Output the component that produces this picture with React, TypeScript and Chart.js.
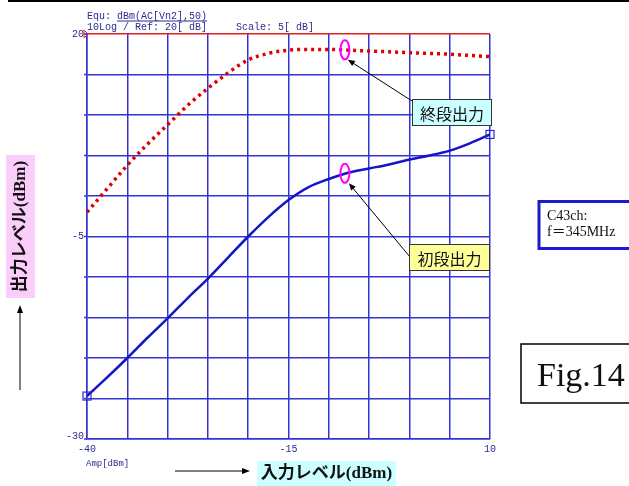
import React, { useEffect, useRef } from "react";
import { Chart, registerables } from "chart.js";
Chart.register(...registerables);

// Input level (dBm)
const inputLevel = [-40, -37.5, -35, -32.5, -30, -27.5, -25, -22.5, -20, -17.5, -15, -12.5, -10, -7.5, -5, -2.5, 0, 2.5, 5, 7.5, 10];
// 終段出力 (final stage output, dBm)
const finalStage = [-2.0, 0.9, 3.8, 6.4, 8.8, 11.2, 13.3, 15.2, 16.8, 17.6, 18.0, 18.1, 18.1, 18.0, 17.9, 17.8, 17.7, 17.6, 17.5, 17.35, 17.2];
// 初段出力 (first stage output, dBm)
const firstStage = [-24.7, -22.4, -20.0, -17.5, -15.1, -12.6, -10.2, -7.6, -5.0, -2.6, -0.5, 1.1, 2.1, 2.9, 3.4, 3.9, 4.5, 5.0, 5.6, 6.5, 7.6];

const xTickLabels = [-40, -15, 10];
const yTickLabels = [20, -5, -30];
const markerX = -8;
const markerFinalY = 18.05;
const markerFirstY = 2.8;

const headerLine1a = "Equ: ";
const headerLine1b = "dBm(AC[Vn2],50)";
const headerLine2 = "10Log / Ref: 20[ dB]";
const headerScale = "Scale: 5[ dB]";
const xUnitLabel = "Amp[dBm]";
const finalLabel = "終段出力";
const firstLabel = "初段出力";
const yTitle = "出力レベル(dBm)";
const xTitle = "入力レベル(dBm)";
const infoLine1 = "C43ch:";
const infoLine2 = "f＝345MHz";
const figLabel = "Fig.14";

const GRID = "#3434d4";
const NAVY = "#2b2b90";
const MONO = "'Liberation Mono', 'DejaVu Sans Mono', monospace";
const SERIF_CJK = "'Liberation Serif', 'Noto Sans CJK JP', serif";
const GOTHIC = "'Noto Sans CJK JP', sans-serif";

function arrow(ctx: CanvasRenderingContext2D, x1: number, y1: number, x2: number, y2: number, head = 7) {
  ctx.save();
  ctx.strokeStyle = "#000";
  ctx.fillStyle = "#000";
  ctx.lineWidth = 1;
  const ang = Math.atan2(y2 - y1, x2 - x1);
  ctx.beginPath();
  ctx.moveTo(x1, y1);
  ctx.lineTo(x2 - Math.cos(ang) * head * 0.8, y2 - Math.sin(ang) * head * 0.8);
  ctx.stroke();
  ctx.beginPath();
  ctx.moveTo(x2, y2);
  ctx.lineTo(x2 - Math.cos(ang) * head + Math.sin(ang) * 3, y2 - Math.sin(ang) * head - Math.cos(ang) * 3);
  ctx.lineTo(x2 - Math.cos(ang) * head - Math.sin(ang) * 3, y2 - Math.sin(ang) * head + Math.cos(ang) * 3);
  ctx.closePath();
  ctx.fill();
  ctx.restore();
}

function labelBox(ctx: CanvasRenderingContext2D, x: number, y: number, w: number, h: number, fill: string, text: string, font: string) {
  ctx.save();
  ctx.fillStyle = fill;
  ctx.fillRect(x, y, w, h);
  ctx.strokeStyle = "#333";
  ctx.lineWidth = 1;
  ctx.strokeRect(x + 0.5, y + 0.5, w - 1, h - 1);
  ctx.fillStyle = "#111";
  ctx.font = font;
  ctx.textAlign = "center";
  ctx.textBaseline = "middle";
  ctx.fillText(text, x + w / 2, y + h / 2 + 1);
  ctx.restore();
}

const overlay = {
  id: "overlay",
  afterDraw(chart: any) {
    const ctx: CanvasRenderingContext2D = chart.ctx;
    const xs = chart.scales.x;
    const ys = chart.scales.y;
    const area = chart.chartArea;
    ctx.save();

    // top black rule
    ctx.fillStyle = "#000";
    ctx.fillRect(8, 0, 621, 2);

    // header texts
    ctx.font = `10px ${MONO}`;
    ctx.fillStyle = NAVY;
    ctx.textBaseline = "alphabetic";
    ctx.textAlign = "left";
    ctx.fillText(headerLine1a, area.left, 19);
    const wA = ctx.measureText(headerLine1a).width;
    ctx.fillText(headerLine1b, area.left + wA, 19);
    const wB = ctx.measureText(headerLine1b).width;
    ctx.fillRect(area.left + wA, 20.5, wB, 1);
    ctx.fillText(headerLine2, area.left, 30);
    ctx.fillText(headerScale, 236, 30);

    // y tick marks + labels
    ctx.strokeStyle = GRID;
    ctx.lineWidth = 1.5;
    for (let v = -30; v <= 20; v += 5) {
      const py = ys.getPixelForValue(v);
      ctx.beginPath();
      ctx.moveTo(area.left - 3, py);
      ctx.lineTo(area.left, py);
      ctx.stroke();
    }
    ctx.fillStyle = NAVY;
    ctx.textAlign = "right";
    ctx.textBaseline = "middle";
    yTickLabels.forEach((v) => {
      const py = ys.getPixelForValue(v);
      ctx.fillText(String(v), area.left - 3, v === -30 ? py - 3 : py);
    });
    // red reference marker at top
    ctx.strokeStyle = "#e02020";
    ctx.lineWidth = 1;
    const ty = ys.getPixelForValue(20);
    ctx.beginPath();
    ctx.moveTo(area.left - 3, ty - 4);
    ctx.lineTo(area.left + 1, ty);
    ctx.lineTo(area.left - 3, ty + 4);
    ctx.closePath();
    ctx.stroke();

    // x tick labels
    ctx.fillStyle = NAVY;
    ctx.textAlign = "center";
    ctx.textBaseline = "top";
    xTickLabels.forEach((v) => {
      ctx.fillText(String(v), xs.getPixelForValue(v), area.bottom + 5);
    });
    ctx.textAlign = "left";
    ctx.font = `9px ${MONO}`;
    ctx.fillText(xUnitLabel, area.left - 1, area.bottom + 20);

    // end-point square markers on first-stage curve
    ctx.strokeStyle = "#2a2ad0";
    ctx.lineWidth = 1.2;
    [0, inputLevel.length - 1].forEach((i) => {
      const px = xs.getPixelForValue(inputLevel[i]);
      const py = ys.getPixelForValue(firstStage[i]);
      ctx.strokeRect(px - 4, py - 4, 8, 8);
    });

    // ellipses
    const ex = xs.getPixelForValue(markerX);
    const eyF = ys.getPixelForValue(markerFinalY);
    const eyS = ys.getPixelForValue(markerFirstY);
    ctx.strokeStyle = "#ff00ff";
    ctx.lineWidth = 2;
    [eyF, eyS].forEach((ey) => {
      ctx.beginPath();
      ctx.ellipse(ex, ey, 4.5, 9.5, 0, 0, Math.PI * 2);
      ctx.stroke();
    });

    // annotation boxes with arrows
    arrow(ctx, 412, 101, ex + 3, eyF + 10);
    labelBox(ctx, 412, 99, 80, 27, "#ccffff", finalLabel, `16px ${GOTHIC}`);
    arrow(ctx, 410, 257, ex + 4, eyS + 10);
    labelBox(ctx, 409, 244, 81, 27, "#ffff99", firstLabel, `16px ${GOTHIC}`);

    // left axis title box (rotated)
    ctx.fillStyle = "#fbcdfb";
    ctx.fillRect(6, 155, 29, 143);
    ctx.save();
    ctx.translate(21, 226.5);
    ctx.rotate(-Math.PI / 2);
    ctx.fillStyle = "#111";
    ctx.font = `bold 17px ${SERIF_CJK}`;
    ctx.textAlign = "center";
    ctx.textBaseline = "middle";
    ctx.fillText(yTitle, 0, 0);
    ctx.restore();
    arrow(ctx, 20, 390, 20, 305, 8);

    // bottom axis title box
    ctx.fillStyle = "#ccffff";
    ctx.fillRect(257, 461, 139, 25);
    ctx.fillStyle = "#111";
    ctx.font = `bold 17px ${SERIF_CJK}`;
    ctx.textAlign = "center";
    ctx.textBaseline = "middle";
    ctx.fillText(xTitle, 326.5, 474);
    arrow(ctx, 175, 471, 250, 471, 8);

    // info box
    ctx.strokeStyle = "#1a1ad0";
    ctx.lineWidth = 3;
    ctx.strokeRect(539, 201.5, 100, 47);
    ctx.fillStyle = "#111";
    ctx.font = `14px ${SERIF_CJK}`;
    ctx.textAlign = "left";
    ctx.textBaseline = "alphabetic";
    ctx.fillText(infoLine1, 547, 220);
    ctx.fillText(infoLine2, 547, 236);

    // Fig box
    ctx.strokeStyle = "#000";
    ctx.lineWidth = 1.5;
    ctx.strokeRect(521, 344, 120, 59);
    ctx.font = `34px 'Liberation Serif', serif`;
    ctx.fillText(figLabel, 537, 386);

    ctx.restore();
  },
};

export default function App() {
  const ref = useRef<HTMLCanvasElement>(null);
  useEffect(() => {
    const chart = new Chart(ref.current as HTMLCanvasElement, {
      type: "line",
      data: {
        datasets: [
          {
            label: finalLabel,
            data: inputLevel.map((x, i) => ({ x, y: finalStage[i] })),
            borderColor: "#e00000",
            borderWidth: 3.5,
            borderDash: [3, 4],
            borderCapStyle: "butt",
            pointRadius: 0,
            cubicInterpolationMode: "monotone",
            fill: false,
          },
          {
            label: firstLabel,
            data: inputLevel.map((x, i) => ({ x, y: firstStage[i] })),
            borderColor: "#1414c8",
            borderWidth: 2.5,
            pointRadius: 0,
            cubicInterpolationMode: "monotone",
            fill: false,
          },
        ],
      },
      options: {
        responsive: false,
        animation: false,
        devicePixelRatio: 1,
        layout: { padding: { left: 87, top: 34, right: 139, bottom: 47 } },
        plugins: { legend: { display: false }, tooltip: { enabled: false } },
        scales: {
          x: {
            type: "linear",
            min: -40,
            max: 10,
            ticks: { display: false, stepSize: 5 },
            grid: { color: GRID, lineWidth: 1.5, drawTicks: false },
            border: { color: GRID, width: 1.5 },
          },
          y: {
            type: "linear",
            min: -30,
            max: 20,
            ticks: { display: false, stepSize: 5 },
            grid: {
              color: (c: any) => (c.tick && c.tick.value === 20 ? "#e02020" : GRID),
              lineWidth: 1.5,
              drawTicks: false,
            },
            border: { color: GRID, width: 1.5 },
          },
        },
      } as any,
      plugins: [overlay],
    });
    return () => chart.destroy();
  }, []);
  return (
    <div style={{ position: "fixed", left: 0, top: 0, width: 629, height: 486, background: "#fff", overflow: "hidden" }}>
      <canvas ref={ref} width={629} height={486} style={{ display: "block" }} />
    </div>
  );
}
